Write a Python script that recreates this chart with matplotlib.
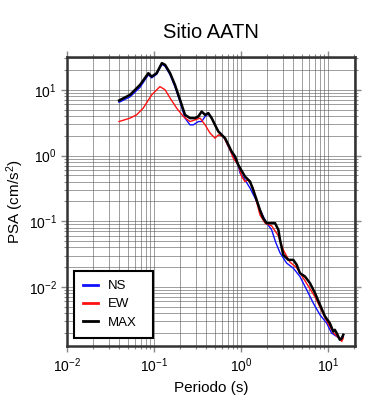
import matplotlib

matplotlib.use("Agg")
import matplotlib.pyplot as plt
from matplotlib.ticker import LogLocator, NullFormatter

plt.rcParams.update({
    "font.family": ["Liberation Sans", "DejaVu Sans"],
    "mathtext.fontset": "custom",
    "mathtext.rm": "Liberation Sans",
    "mathtext.it": "Liberation Sans",
})

# Response spectra (period in s, PSA in cm/s^2)
max_T = [0.0396, 0.053, 0.069, 0.086, 0.094, 0.107, 0.123, 0.134, 0.153, 0.174,
         0.199, 0.227, 0.259, 0.296, 0.323, 0.353, 0.386, 0.421, 0.46, 0.502,
         0.549, 0.60, 0.655, 0.715, 0.78, 0.853, 0.93, 1.11, 1.27, 1.38,
         1.51, 1.65, 1.80, 1.97, 2.25, 2.46, 2.69, 2.81, 3.06, 3.50,
         3.99, 4.37, 4.76, 5.44, 6.21, 7.09, 8.09, 9.24, 10.5, 11.5,
         12.0, 12.6, 13.7, 14.4, 15.0]
max_psa = [6.87, 8.4, 11.9, 17.9, 15.9, 17.9, 25.5, 24.0, 17.9, 11.9,
           7.04, 4.16, 3.71, 3.71, 3.93, 4.68, 4.16, 4.42, 3.71, 2.93,
           2.32, 2.06, 1.84, 1.46, 1.15, 0.97, 0.72, 0.479, 0.402, 0.30,
           0.212, 0.149, 0.111, 0.0935, 0.0935, 0.0935, 0.074, 0.052, 0.0308, 0.0258,
           0.0258, 0.0217, 0.0162, 0.0144, 0.0114, 0.00805, 0.00535, 0.00355, 0.00281, 0.00209,
           0.00222, 0.00198, 0.00157, 0.00166, 0.00187]

ns_T = [0.0396, 0.053, 0.069, 0.086, 0.094, 0.107, 0.123, 0.134, 0.153, 0.174,
        0.199, 0.227, 0.259, 0.283, 0.323, 0.353, 0.386, 0.421, 0.46, 0.502,
        0.549, 0.60, 0.655, 0.715, 0.815, 0.93, 0.975, 1.11, 1.27, 1.45,
        1.65, 1.97, 2.25, 2.50, 2.81, 3.35, 3.99, 4.76, 5.69, 6.78,
        8.09, 9.66, 11.0, 12.6, 14.4, 15.0]
ns_psa = [6.46, 7.82, 10.9, 16.9, 15.2, 17.2, 24.4, 22.8, 16.9, 11.1,
          6.56, 3.71, 2.93, 2.93, 3.29, 3.29, 3.93, 4.3, 3.71, 2.93,
          2.32, 2.06, 1.78, 1.36, 0.97, 0.70, 0.54, 0.427, 0.319, 0.225,
          0.149, 0.0935, 0.074, 0.048, 0.0330, 0.0230, 0.0193, 0.0144, 0.00904, 0.00566,
          0.00376, 0.00281, 0.00198, 0.00176, 0.00157, 0.00176]

ew_T = [0.0396, 0.053, 0.063, 0.075, 0.094, 0.117, 0.134, 0.153, 0.182, 0.217,
        0.259, 0.296, 0.338, 0.386, 0.441, 0.502, 0.549, 0.627, 0.748, 0.815,
        0.93, 1.02, 1.11, 1.21, 1.38, 1.65, 1.89, 2.25, 2.69, 3.06,
        3.64, 4.37, 5.44, 7.09, 9.24, 11.5, 13.2, 14.4, 15.0]
ew_psa = [3.29, 3.71, 4.16, 5.26, 8.39, 11.2, 10.0, 7.48, 5.26, 3.93,
          3.29, 3.49, 3.71, 2.93, 2.19, 1.84, 2.06, 1.95, 1.22, 0.91,
          0.72, 0.479, 0.402, 0.427, 0.32, 0.125, 0.0935, 0.085, 0.060, 0.0367,
          0.0240, 0.0195, 0.0124, 0.00706, 0.00339, 0.00202, 0.00169, 0.00148, 0.00167]

fig = plt.figure(figsize=(3.9, 4.0), dpi=100)
ax = fig.add_axes([0.172, 0.135, 0.738, 0.7225])

ax.plot(ns_T, ns_psa, color="#1010ff", lw=1.0, label="NS")
ax.plot(ew_T, ew_psa, color="#ff1010", lw=1.0, label="EW")
ax.plot(max_T, max_psa, color="black", lw=1.8, label="MAX")

ax.set_xscale("log")
ax.set_yscale("log")
ax.set_xlim(0.01, 20.4)
ax.set_ylim(1.26e-3, 31.6)

for axis in (ax.xaxis, ax.yaxis):
    axis.set_major_locator(LogLocator(base=10, numticks=10))
    axis.set_minor_locator(LogLocator(base=10, subs=range(2, 10), numticks=20))
    axis.set_minor_formatter(NullFormatter())

ax.grid(True, which="both", color="#555555", lw=0.5, alpha=0.8)
ax.set_axisbelow(True)
ax.tick_params(which="both", direction="out", color="#888888",
               top=True, right=True, labelsize=10)
ax.tick_params(which="major", length=4, width=1)
ax.tick_params(which="minor", length=2.5, width=0.8)
for s in ax.spines.values():
    s.set_linewidth(1.8)
    s.set_color("#333333")

ax.set_title("Sitio AATN", fontsize=14.5, pad=14)
ax.set_xlabel("Periodo (s)", fontsize=11, labelpad=4)
ax.set_ylabel("PSA (cm/s$^2$)", fontsize=11, labelpad=2)

leg = ax.legend(loc="lower left", bbox_to_anchor=(0.024, 0.028, 0.275, 0.245),
                mode="expand", fancybox=False, framealpha=1, edgecolor="black",
                fontsize=9.5, handlelength=1.15, handletextpad=0.7,
                labelspacing=0.45, borderaxespad=0, borderpad=0.7)
leg.get_frame().set_linewidth(1.5)
for h in leg.get_lines():
    h.set_linewidth(2.0)

fig.savefig("out.png", dpi=100)
